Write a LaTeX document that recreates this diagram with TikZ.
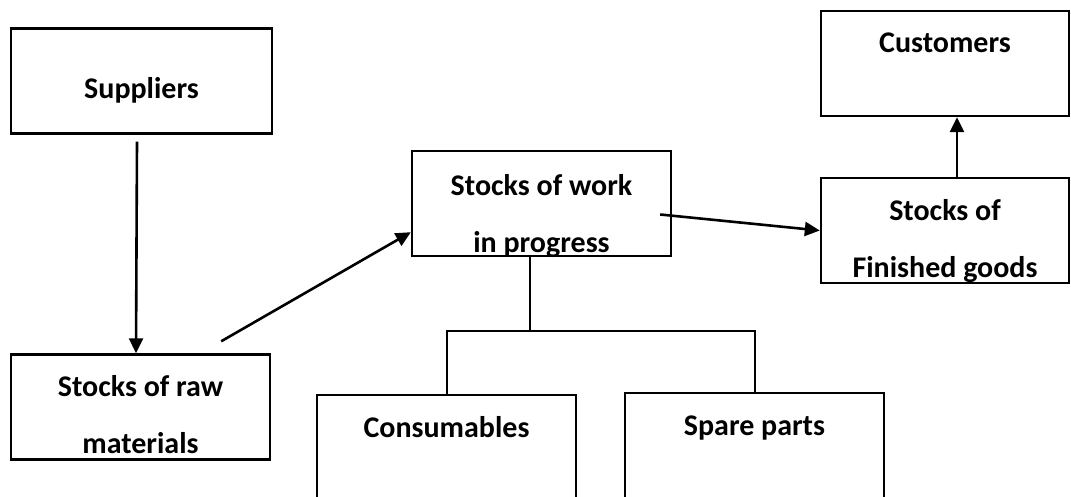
\documentclass[tikz,border=0pt]{standalone}
\usepackage{fontspec}
\setmainfont{Carlito}
\usepackage{tikz}
\usetikzlibrary{arrows, arrows.meta, calc}
\tikzstyle{box} = [rectangle, draw=black, line width=2.4pt, minimum width=259pt, minimum height=105pt, inner sep=0pt]
\tikzstyle{lbl} = [font=\fontsize{30}{57}\selectfont\bfseries, align=center, inner sep=0pt, anchor=base]
\tikzstyle{arrow} = [line width=2.6pt,->,>={Triangle[length=15pt,width=14pt]}]

\begin{document}
\begin{tikzpicture}[x=1pt, y=-1pt, line width=2pt]
	\clip (0,0) rectangle (1071,497);
	% boxes
	\node[box, minimum width=261pt] (sup) at (141.5,81) {};
	\node[box] (raw) at (140.5,407) {};
	\node[box] (wip) at (541.5,203.5) {};
	\node[box, minimum width=248pt] (cust) at (945,63.5) {};
	\node[box, minimum width=248pt] (fin) at (945,230.5) {};
	\node[box, minimum height=130pt] (cons) at (446.5,460) {};
	\node[box, minimum height=132pt] (spare) at (754.5,459) {};

	% Labels
	\node[lbl] (supT) at (141.5,99) {Suppliers};
	\node[lbl] (rawT) at (140.5,453) {Stocks of raw\\materials};
	\node[lbl] (wipT) at (541.5,252) {Stocks of work\\in progress};
	\node[lbl] (custT) at (945,53) {Customers};
	\node[lbl] (finT) at (945,277) {Stocks of\\Finished goods};
	\node[lbl] (consT) at (446.5,437) {Consumables};
	\node[lbl] (spareT) at (754.5,435) {Spare parts};

	% flows
	\draw[arrow] ([xshift=-4.5pt,yshift=-7pt]sup.south) -- ([xshift=-4.5pt]raw.north);
	\draw[arrow] ([xshift=-50pt,yshift=12pt]raw.north east) -- ([yshift=25pt]wip.south west);
	\draw[arrow] ([xshift=-12pt,yshift=-11pt]wip.east) -- (fin.west);
	\draw[arrow] ([xshift=12pt]fin.north) -- ([xshift=12pt]cust.south);

	% split of work in progress
	\coordinate (split) at (530,331);
	\draw (split) -- (split |- wip.south);
	\draw (cons.north) |- (split) -| (spare.north);
\end{tikzpicture}
\end{document}
